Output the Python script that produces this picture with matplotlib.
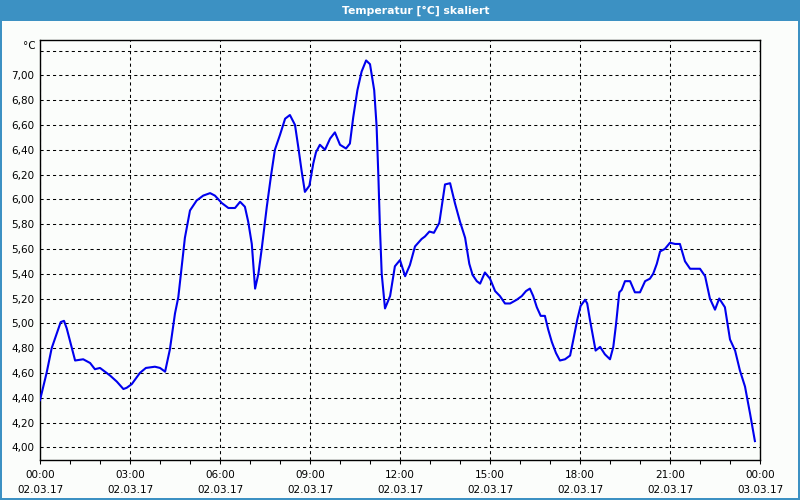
import matplotlib
matplotlib.use("Agg")
import matplotlib.pyplot as plt
import matplotlib.dates as mdates
from matplotlib.ticker import FixedLocator, FuncFormatter
from matplotlib.patches import Rectangle
from datetime import datetime, timedelta

# Stunden seit 02.03.17 00:00 und Temperatur in °C
hours = [0.0, 0.22, 0.39, 0.56, 0.69, 0.8, 0.89, 1.06, 1.17, 1.44, 1.67, 1.83, 2.0, 2.33,
         2.56, 2.78, 2.89, 3.06, 3.33, 3.53, 3.83, 4.0, 4.17, 4.33, 4.5, 4.61, 4.72, 4.83,
         5.0, 5.22, 5.44, 5.67, 5.83, 6.06, 6.28, 6.5, 6.67, 6.83, 6.94, 7.06, 7.17, 7.28,
         7.39, 7.56, 7.7, 7.83, 8.0, 8.17, 8.33, 8.5, 8.61, 8.72, 8.83, 8.98, 9.11, 9.2,
         9.33, 9.5, 9.67, 9.83, 10.0, 10.2, 10.33, 10.44, 10.58, 10.72, 10.87, 11.0, 11.14,
         11.22, 11.28, 11.33, 11.39, 11.5, 11.67, 11.83, 12.0, 12.17, 12.33, 12.5, 12.72,
         12.83, 12.98, 13.13, 13.31, 13.39, 13.5, 13.67, 13.83, 14.0, 14.17, 14.31, 14.42,
         14.56, 14.67, 14.83, 15.0, 15.17, 15.33, 15.5, 15.67, 15.89, 16.06, 16.2, 16.33,
         16.44, 16.56, 16.69, 16.83, 16.94, 17.06, 17.2, 17.33, 17.5, 17.67, 17.78, 17.91,
         18.02, 18.17, 18.24, 18.33, 18.42, 18.52, 18.67, 18.83, 19.0, 19.11, 19.2, 19.31,
         19.39, 19.5, 19.67, 19.83, 20.0, 20.17, 20.33, 20.44, 20.56, 20.67, 20.83, 21.0,
         21.17, 21.33, 21.5, 21.67, 21.83, 22.0, 22.17, 22.33, 22.5, 22.64, 22.83, 23.0,
         23.17, 23.33, 23.5, 23.67, 23.83]
temps = [4.38, 4.6, 4.8, 4.92, 5.01, 5.02, 4.96, 4.8, 4.7, 4.71, 4.68, 4.63, 4.64, 4.58,
         4.53, 4.47, 4.48, 4.51, 4.6, 4.64, 4.65, 4.64, 4.61, 4.79, 5.08, 5.21, 5.45, 5.69,
         5.91, 5.99, 6.03, 6.05, 6.03, 5.97, 5.93, 5.93, 5.98, 5.94, 5.82, 5.64, 5.28, 5.4,
         5.6, 5.94, 6.19, 6.4, 6.52, 6.65, 6.68, 6.6, 6.42, 6.23, 6.06, 6.11, 6.29, 6.38,
         6.44, 6.4, 6.49, 6.54, 6.44, 6.41, 6.45, 6.66, 6.88, 7.03, 7.12, 7.09, 6.88,
         6.59, 6.18, 5.78, 5.4, 5.12, 5.22, 5.46, 5.51, 5.38, 5.47, 5.62, 5.68,
         5.7, 5.74, 5.73, 5.81, 5.94, 6.12, 6.13, 5.97, 5.82, 5.69, 5.48, 5.39,
         5.34, 5.32, 5.41, 5.36, 5.26, 5.22, 5.16, 5.16, 5.19, 5.22, 5.26, 5.28,
         5.22, 5.13, 5.06, 5.06, 4.95, 4.85, 4.76, 4.7, 4.71, 4.74, 4.87, 5.03,
         5.14, 5.19, 5.16, 5.03, 4.91, 4.78, 4.81, 4.75, 4.71, 4.81, 4.99, 5.25,
         5.27, 5.34, 5.34, 5.25, 5.25, 5.34, 5.36, 5.4, 5.48, 5.58, 5.6, 5.65,
         5.64, 5.64, 5.5, 5.44, 5.44, 5.44, 5.38, 5.2, 5.11, 5.2, 5.13, 4.87,
         4.78, 4.62, 4.49, 4.27, 4.05]
y_grid = [4.0, 4.2, 4.4, 4.6, 4.8, 5.0, 5.2, 5.4, 5.6, 5.8, 6.0, 6.2, 6.4, 6.6, 6.8, 7.0, 7.2]
title = "Temperatur [°C] skaliert"

start = datetime(2017, 3, 2)
times = [start + timedelta(hours=h) for h in hours]

bar_blue = "#3c91c3"
bg = "#fbfdfb"

fig = plt.figure(figsize=(8, 5), dpi=100, facecolor=bg)
# Titelleiste und Rahmen
fig.patches.append(Rectangle((0, 1 - 21 / 500), 1, 21 / 500, transform=fig.transFigure,
                             facecolor=bar_blue, edgecolor="none", zorder=0))
fig.patches.append(Rectangle((0, 0), 2 / 800, 1, transform=fig.transFigure,
                             facecolor=bar_blue, edgecolor="none", zorder=0))
fig.patches.append(Rectangle((1 - 2 / 800, 0), 2 / 800, 1, transform=fig.transFigure,
                             facecolor=bar_blue, edgecolor="none", zorder=0))
fig.patches.append(Rectangle((0, 0), 1, 2 / 500, transform=fig.transFigure,
                             facecolor=bar_blue, edgecolor="none", zorder=0))
fig.text(0.52, 1 - 10.5 / 500, title, color="white", fontsize=7.8, fontweight="bold",
         ha="center", va="center")

ax = fig.add_axes([40 / 800, 40 / 500, 720 / 800, 420 / 500])
ax.set_facecolor(bg)
ax.plot(times, temps, color="#0000ee", linewidth=1.5, zorder=3)

ax.set_xlim(start, start + timedelta(hours=24))
ax.set_ylim(3.8976, 7.285)

ax.xaxis.set_major_locator(mdates.HourLocator(byhour=range(0, 24, 3)))
ax.xaxis.set_minor_locator(mdates.HourLocator())
ax.xaxis.set_major_formatter(FuncFormatter(
    lambda x, pos: mdates.num2date(x).strftime("%H:%M\n%d.%m.%y")))
ax.yaxis.set_major_locator(FixedLocator(y_grid))
ax.yaxis.set_major_formatter(FuncFormatter(
    lambda v, pos: "" if v > 7.1 else f"{v:.2f}".replace(".", ",")))

ax.tick_params(axis="x", which="both", direction="out", length=3, width=0.75,
               labelsize=7.5, pad=4.5)
ax.tick_params(axis="y", length=0, labelsize=7.5, pad=4)
for lab in ax.get_xticklabels():
    lab.set_linespacing(1.6)

ax.grid(True, which="major", color="black", linewidth=0.75, linestyle=(0, (3, 3)))
for s in ax.spines.values():
    s.set_linewidth(1)
    s.set_color("black")

ax.text(-4 / 720, 1 - 6 / 420, "°C", transform=ax.transAxes, ha="right", va="center",
        fontsize=7.5)

fig.savefig("out.png", dpi=100, facecolor=bg)
